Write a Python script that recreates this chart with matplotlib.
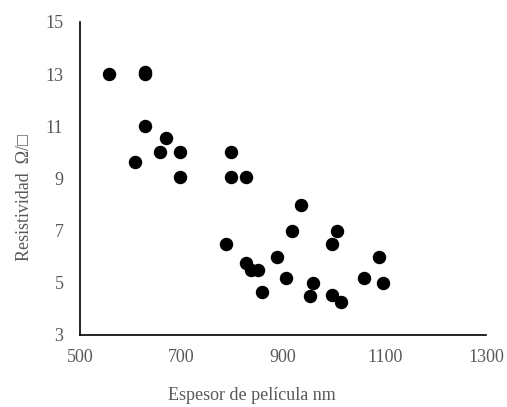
import matplotlib
matplotlib.use("Agg")
import matplotlib.pyplot as plt

# espesor (nm) vs resistividad
espesor = [557, 628, 628, 628, 669, 608, 657, 697, 697, 797, 797, 827,
           936, 918, 1006, 996, 888, 1088, 906, 958, 952, 997, 1013, 1059,
           1097, 858, 787, 827, 837, 850]
resistividad = [13.0, 13.1, 13.0, 11.0, 10.55, 9.65, 10.0, 10.0, 9.05, 10.0, 9.05, 9.05,
                8.0, 7.0, 7.0, 6.5, 6.0, 6.0, 5.2, 5.0, 4.5, 4.55, 4.25, 5.2,
                5.0, 4.65, 6.5, 5.77, 5.5, 5.5]

gris = "#595959"
plt.rcParams['font.family'] = ['Liberation Serif', 'DejaVu Serif']

fig = plt.figure(figsize=(5.07, 4.07), dpi=100)
ax = fig.add_axes([0.158, 0.177, 0.801, 0.769])
ax.scatter(espesor, resistividad, s=75, color="black", zorder=3)

ax.set_xlim(500, 1300)
ax.set_ylim(3, 15)
ax.set_xticks([500, 700, 900, 1100, 1300])
ax.set_yticks([3, 5, 7, 9, 11, 13, 15])
ax.tick_params(length=0, labelsize=13, labelcolor=gris)
ax.tick_params(axis="y", pad=12)
ax.tick_params(axis="x", pad=10)
for s in ["top", "right"]:
    ax.spines[s].set_visible(False)
for s in ["left", "bottom"]:
    ax.spines[s].set_color("black")
    ax.spines[s].set_linewidth(1.2)

ax.set_xlabel("Espesor de película nm", fontsize=13, color=gris)
ax.xaxis.set_label_coords(0.424, -0.165)
ax.set_ylabel("Resistividad  Ω/□", fontsize=13, color=gris,
              family=['Liberation Serif', 'DejaVu Sans'])
ax.yaxis.set_label_coords(-0.115, 0.44)

fig.savefig("out.png", dpi=100)
